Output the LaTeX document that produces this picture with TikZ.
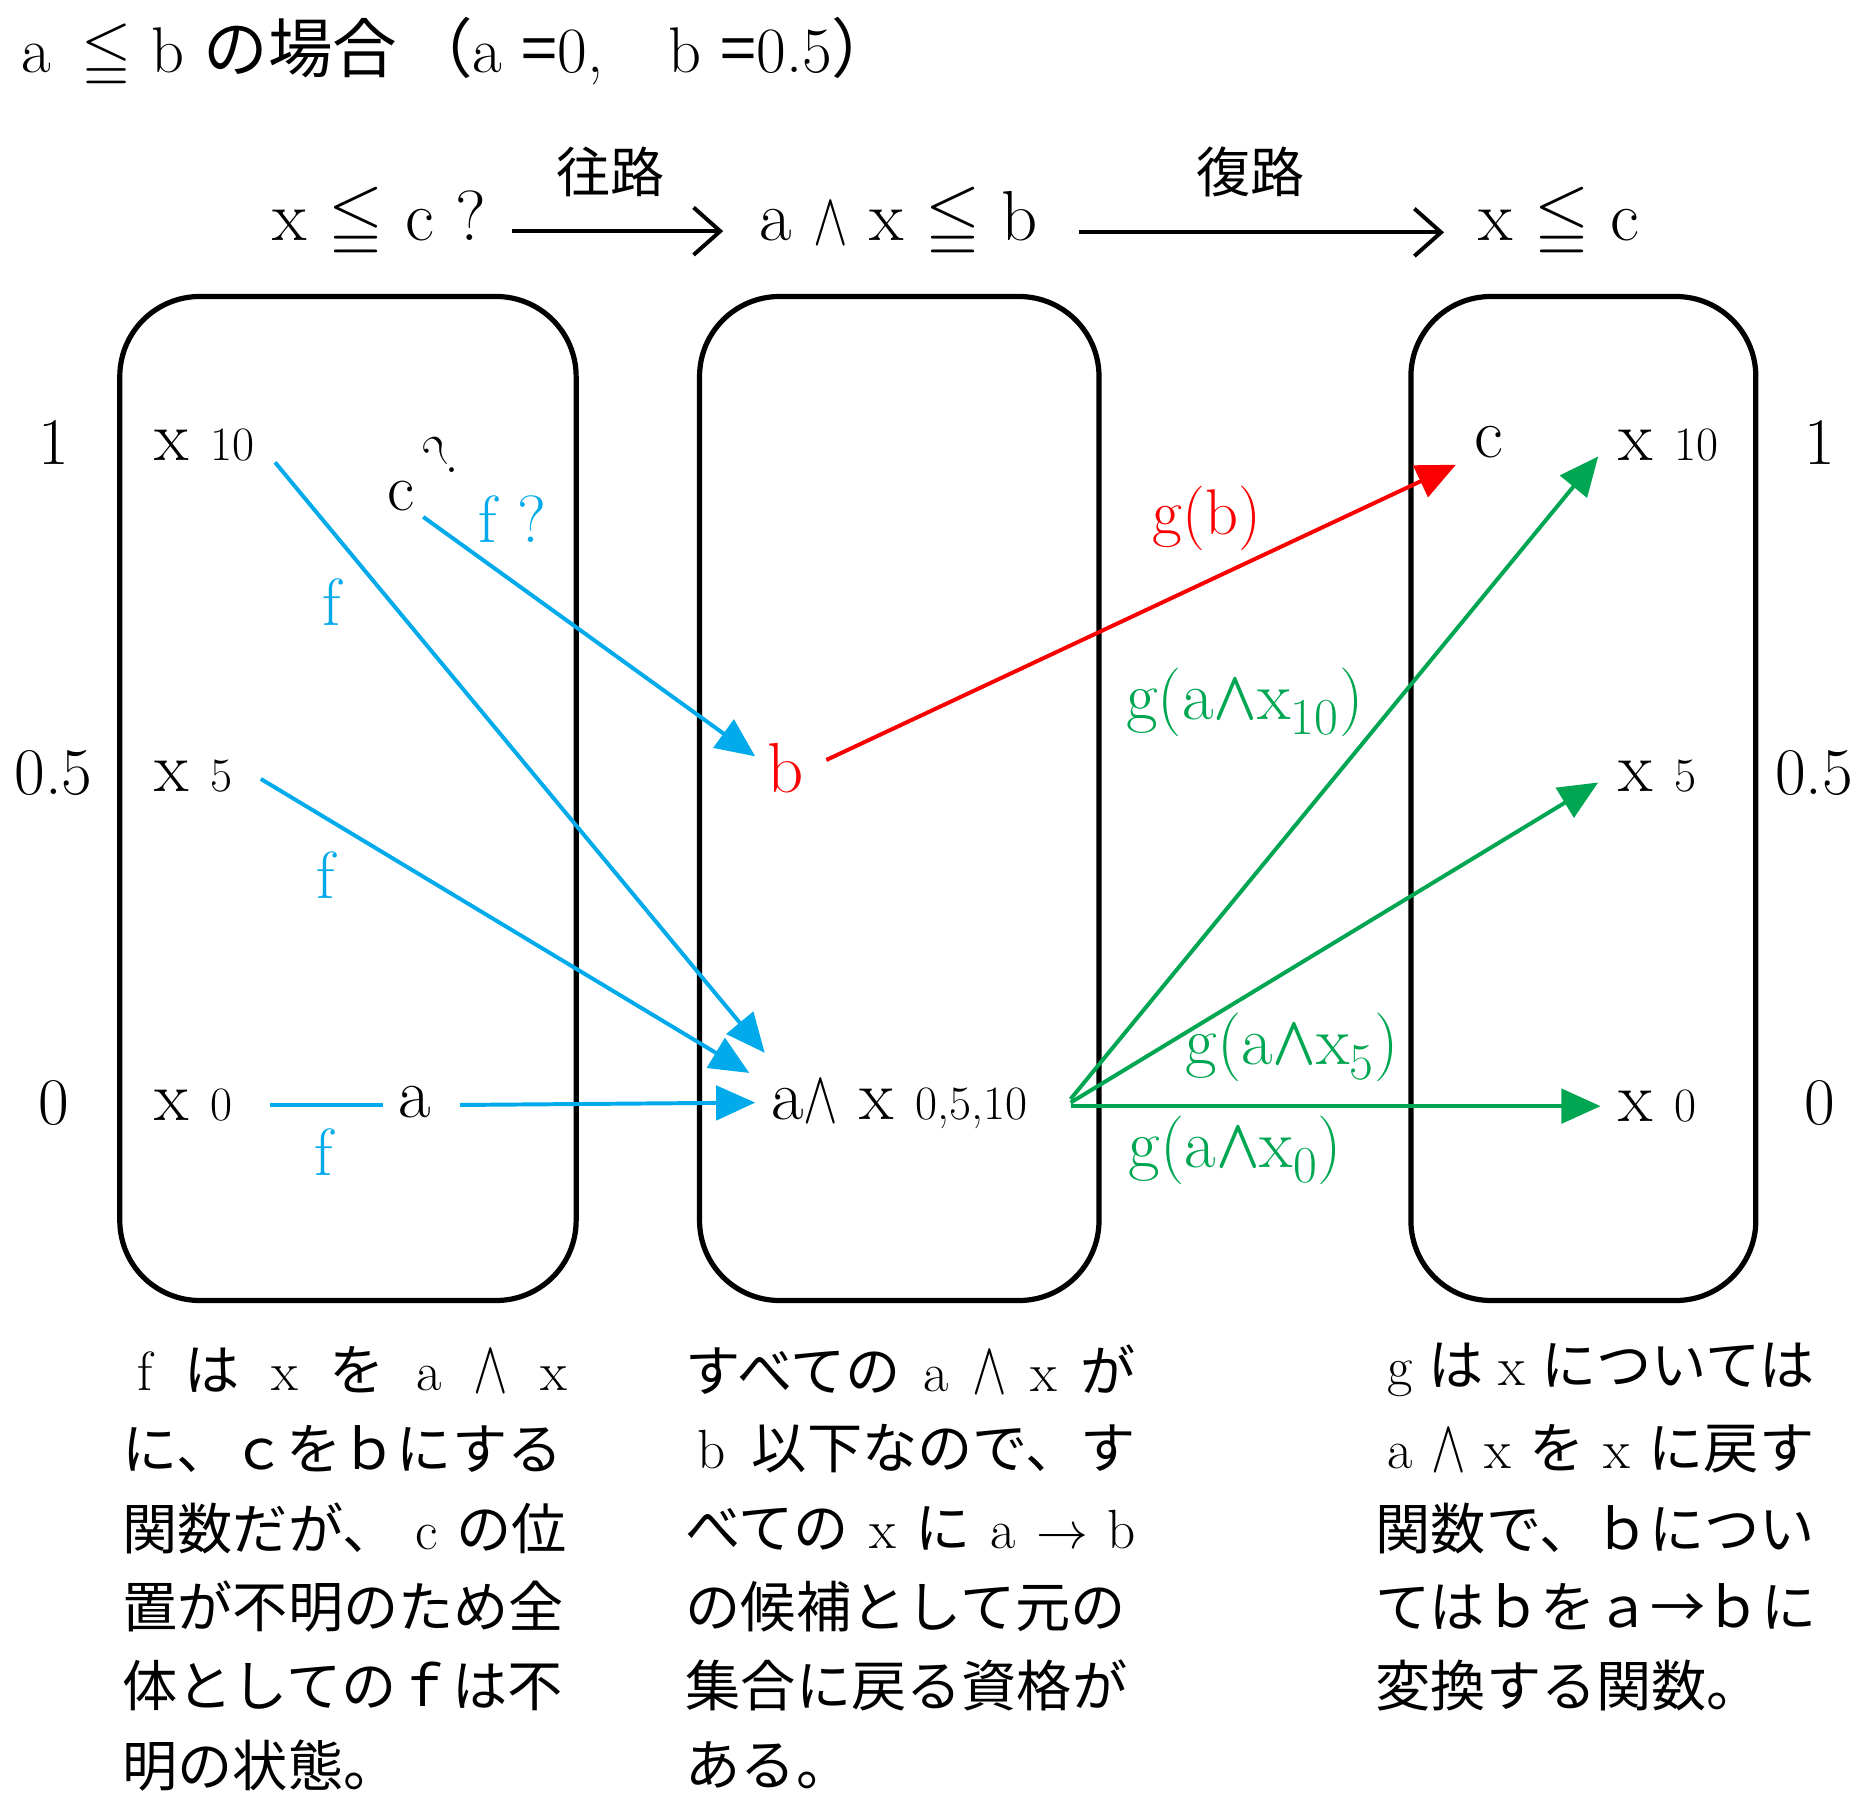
\documentclass[tikz,border=0pt]{standalone}
\usepackage{amsmath}
\usepackage{amssymb}
\usepackage{graphicx}
\usepackage{fontspec}
\newfontfamily\jp{Noto Sans CJK JP}
\usetikzlibrary{arrows.meta}
\definecolor{fblue}{RGB}{0,170,235}
\definecolor{gred}{RGB}{250,0,0}
\definecolor{ggreen}{RGB}{0,166,81}
\newcommand{\fsz}[1]{\fontsize{#1}{#1}\selectfont}
\newcommand{\lm}[1]{{\rmfamily #1}}
\newcommand{\sub}[1]{{\fsz{23pt}#1}}
\newcommand{\tw}{\raisebox{-0.05em}{\scalebox{1}[1.45]{$\wedge$}}}
\newcommand{\gw}{\scalebox{1.1}[1.35]{$\boldsymbol{\wedge}$}}
\begin{document}
\begin{tikzpicture}[x=0.02cm,y=-0.02cm,
  box/.style={draw, line width=2.5pt, rounded corners=1.35cm, minimum height=16.94cm},
  lbl/.style={inner sep=0pt, font=\fsz{34pt}},
  ax/.style={inner sep=0pt, font=\fsz{32pt}},
  jlab/.style={inner sep=0pt, font=\jp\fsz{26pt}},
  txt/.style={inner sep=0pt, anchor=west, font=\jp\fsz{26.5pt}},
  toparrow/.style={line width=1.9pt, -{Straight Barb[length=0.45cm,width=0.8cm,line width=1.9pt]}},
  tip/.style={-{Triangle[length=0.66cm,width=0.58cm]}},
  farrow/.style={fblue, line width=1.9pt, tip},
  fline/.style={fblue, line width=1.9pt},
  garrow/.style={ggreen, line width=1.9pt, tip},
  rarrow/.style={gred, line width=1.9pt, tip},
  flab/.style={inner sep=0pt, fblue, font=\fsz{32pt}},
  glab/.style={inner sep=0pt, ggreen, font=\fsz{33pt}},
  rlab/.style={inner sep=0pt, gred, font=\fsz{31pt}}
]
\useasboundingbox (0,0) rectangle (1568,1527);

% title
\node[inner sep=0pt, anchor=west, font=\fsz{31pt}] (title) at (18,45)
  {a\, $\leqq$\ b\hspace{0.3em}{\jp の場合}\,{\jp （}a {\jp =}0,\quad b {\jp =}0.5{\jp ）}};

% top row
\node[lbl] (t1) at (320,188) {x $\leqq$ c ?};
\node[lbl] (t2) at (758,188) {a \tw\ x $\leqq$ b};
\node[lbl] (t3) at (1315,188) {x $\leqq$ c};
\node[jlab] (w1) at (515,145) {往路};
\node[jlab] (w2) at (1055,145) {復路};
\coordinate (a1s) at (432,195);
\coordinate (a1e) at (610,195);
\coordinate (a2s) at (910,196);
\coordinate (a2e) at (1218,196);
\draw[toparrow] (a1s) -- (a1e);
\draw[toparrow] (a2s) -- (a2e);

% boxes
\node[box, minimum width=7.7cm] (boxL) at (293.5,673.5) {};
\node[box, minimum width=6.74cm] (boxM) at (758.5,673.5) {};
\node[box, minimum width=5.82cm] (boxR) at (1335.5,673.5) {};

% axis labels
\node[ax] (yl1) at (45,373) {1};
\node[ax] (yl05) at (45,652) {0.5};
\node[ax] (yl0) at (45,930) {0};
\node[ax] (yr1) at (1535,373) {1};
\node[ax, anchor=west] (yr05) at (1497,652) {0.5};
\node[ax] (yr0) at (1535,930) {0};

% left box content
\node[lbl, anchor=west] (lx10) at (130,375) {x \sub{10}};
\node[lbl, anchor=west] (lx5) at (130,655) {x \sub{5}};
\node[lbl, anchor=west] (lx0) at (130,932) {x \sub{0}};
\node[lbl, font=\fsz{32pt}] (lc) at (338,418) {c};
\node[lbl, font=\fsz{28pt}, rotate=40] (lq) at (372,384) {?};
\node[lbl] (la) at (350,930) {a};

% middle box content
\node[lbl, gred] (mb) at (663,648) {b};
\node[lbl, anchor=west] (mam) at (650,932) {a\tw\ x \sub{0,5,10}};

% right box content
\node[lbl] (rc) at (1256,373) {c};
\node[lbl, anchor=west] (rx10) at (1365,375) {x \sub{10}};
\node[lbl, anchor=west] (rx5) at (1365,655) {x \sub{5}};
\node[lbl, anchor=west] (rx0) at (1365,933) {x \sub{0}};

% connector end points
\coordinate (fs10) at (232,390);
\coordinate (fe10) at (645,888);
\coordinate (fsc) at (357,436);
\coordinate (fec) at (637,638);
\coordinate (fs5) at (220,657);
\coordinate (fe5) at (632,905);
\coordinate (fs0) at (228,932);
\coordinate (fe0) at (323,932);
\coordinate (fsa) at (388,932);
\coordinate (fea) at (637,930);
\coordinate (rs) at (697,641);
\coordinate (re) at (1228,392);
\coordinate (gs10) at (903,927);
\coordinate (ge10) at (1348,385);
\coordinate (gs5) at (903,930);
\coordinate (ge5) at (1348,660);
\coordinate (gs0) at (903,933);
\coordinate (ge0) at (1350,933);

\draw[farrow] (fs10) -- (fe10);
\draw[farrow] (fsc) -- (fec);
\draw[farrow] (fs5) -- (fe5);
\draw[fline] (fs0) -- (fe0);
\draw[farrow] (fsa) -- (fea);
\draw[rarrow] (rs) -- (re);
\draw[garrow] (gs10) -- (ge10);
\draw[garrow] (gs5) -- (ge5);
\draw[garrow] (gs0) -- (ge0);

% connector labels
\node[flab] (lf1) at (280,508) {f};
\node[flab] (lf2) at (275,738) {f};
\node[flab] (lf3) at (273,972) {f};
\node[flab] (lfq) at (432,438) {f ?};
\node[rlab] (lgb) at (1018,437) {g(b)};
\node[glab] (lg10) at (1050,592) {g(a\gw x$_{10}$)};
\node[glab] (lg5) at (1090,883) {g(a\gw x$_{5}$)};
\node[glab] (lg0) at (1042,970) {g(a\gw x$_{0}$)};

% bottom texts, left column
\node[txt] (L1) at (103,1155) {\makebox[7.5cm][s]{\hspace{0.25cm}\lm{f} は \lm{x} を \lm{a} \lm{\tw} \lm{x}}};
\node[txt] (L2) at (103,1222) {に、ｃをｂにする};
\node[txt] (L3) at (103,1289) {\makebox[7.5cm][s]{関数だが、 \lm{c} の位}};
\node[txt] (L4) at (103,1355) {置が不明のため全};
\node[txt] (L5) at (103,1422) {体としてのｆは不};
\node[txt] (L6) at (103,1489) {明の状態。};

% middle column
\node[txt] (M1) at (578,1155) {\makebox[7.6cm][s]{すべての \lm{a} \lm{\tw} \lm{x} が}};
\node[txt] (M2) at (578,1222) {\makebox[7.6cm][s]{\hspace{0.2cm}\lm{b} 以下なので、す}};
\node[txt] (M3) at (578,1289) {\makebox[7.6cm][s]{べての \lm{x} に \lm{a} \lm{$\rightarrow$} \lm{b}}};
\node[txt] (M4) at (578,1355) {の候補として元の};
\node[txt] (M5) at (578,1422) {集合に戻る資格が};
\node[txt] (M6) at (578,1489) {ある。};

% right column
\node[txt] (R1) at (1160,1155) {\makebox[7.4cm][s]{\hspace{0.2cm}\lm{g} は \lm{x} については}};
\node[txt] (R2) at (1160,1222) {\makebox[7.4cm][s]{\hspace{0.2cm}\lm{a} \lm{\tw} \lm{x} を \lm{x} に戻す}};
\node[txt] (R3) at (1160,1289) {関数で、ｂについ};
\node[txt] (R4) at (1160,1355) {てはｂをａ→ｂに};
\node[txt] (R5) at (1160,1422) {変換する関数。};
\end{tikzpicture}
\end{document}
